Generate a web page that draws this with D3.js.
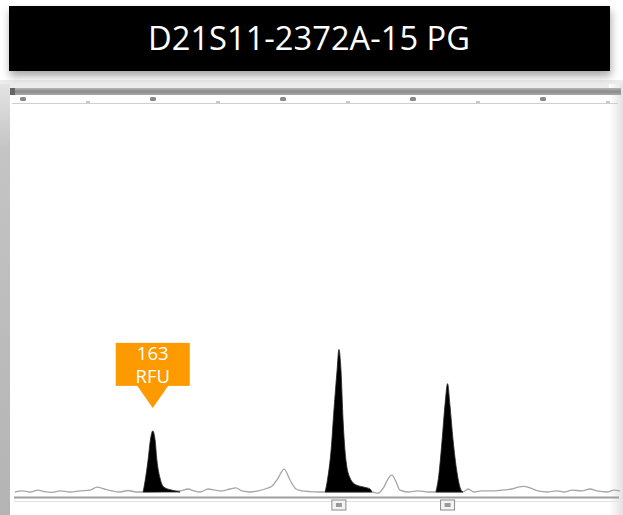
<!DOCTYPE html>
<html>
<head>
<meta charset="utf-8">
<script src="https://cdn.jsdelivr.net/npm/d3@7"></script>
<style>
  body { margin: 0; background: #fff; }
  svg { display: block; }
</style>
</head>
<body>
<div id="chart"></div>
<script>
// Page size.
var width = 623;
var height = 515;

var title = "D21S11-2372A-15 PG";

// Ruler ticks along the top (bp).
var majorTicks = [100, 150, 200, 250, 300];
var minorTicks = [125, 175, 225, 275, 325];

// Grey raw trace (bp, RFU).
var traceBp  = [96.9, 99.6, 102.7, 105.8, 108.1, 111.2, 114.2, 118.1, 121.9, 125.8, 128.5, 131.2, 134.2, 137.3, 140.4, 143.5, 146.2, 148.8, 154.6, 157.3,
                160.4, 163.5, 165.8, 168.1, 171.2, 173.8, 176.5, 179.6, 181.9, 184.2, 187.3, 190.4, 193.1, 195.8, 198.1, 200.4, 202.7, 205.0, 207.3, 210.4,
                213.5, 216.2, 225.8, 234.2, 236.5, 238.8, 240.4, 241.9, 243.5, 245.0, 248.1, 252.0, 255.8, 258.1, 269.2, 271.2, 273.5, 276.5, 280.4, 284.2,
                288.1, 290.4, 292.7, 295.0, 298.1, 301.5, 305.4, 308.1, 311.2, 315.0, 318.1, 320.8, 324.6, 327.3, 329.6];
var traceRfu = [0, 3, 0, 5, 1, -1, 3, 0, 3, 5, 13, 8, 3, 0, 4, 0, 0, 0, 2, 3,
                3, 8, 3, 0, 8, 5, 3, 8, 11, 3, 0, 3, 8, 16, 37, 61, 32, 8, 3, 1,
                0, 0, 0, 0, -3, 13, 35, 45, 27, 5, 0, 3, 0, 0, 0, 8, 0, 3, 3, 5,
                8, 13, 15, 11, 3, 0, 3, 0, 5, 3, 8, 3, 0, 5, 3];

// Called allele peaks (filled black), outline points (bp, RFU).
var peak1Bp  = [146.2, 146.9, 148.1, 149.0, 149.9, 150.8, 151.5, 152.7, 154.2, 157.3, 160.4];
var peak1Rfu = [0, 27, 85, 139, 163, 139, 85, 37, 13, 5, 0];
var peak2Bp  = [216.2, 217.1, 218.5, 219.6, 220.8, 221.5, 222.3, 223.1, 224.2, 225.8, 228.1, 231.2, 233.5, 234.2];
var peak2Rfu = [0, 32, 112, 219, 325, 380, 325, 192, 85, 37, 19, 13, 8, 0];
var peak3Bp  = [258.8, 259.9, 261.2, 262.3, 263.3, 264.2, 265.4, 266.9, 268.5, 269.2];
var peak3Rfu = [0, 43, 139, 232, 289, 232, 139, 53, 5, 0];

// Allele label boxes under the called peaks.
var labelBp = [221.5, 263.3];

// Callout on the small peak.
var calloutBp = 149.9;
var calloutRfu = 163;
var calloutText = ["163", "RFU"];

var x = d3.scaleLinear().domain([100, 300]).range([23, 543]);
var y = d3.scaleLinear().domain([0, 1000]).range([492, 117]);

var svg = d3.select("#chart").append("svg")
    .attr("width", width)
    .attr("height", height);

var defs = svg.append("defs");

var shadow = defs.append("filter")
    .attr("id", "shadow")
    .attr("x", "-5%").attr("y", "-20%")
    .attr("width", "110%").attr("height", "160%");
shadow.append("feDropShadow")
    .attr("dx", 1).attr("dy", 5)
    .attr("stdDeviation", 4)
    .attr("flood-color", "#000")
    .attr("flood-opacity", 0.35);

var leftGrad = defs.append("linearGradient")
    .attr("id", "leftGrad").attr("x1", 0).attr("x2", 0).attr("y1", 0).attr("y2", 1);
leftGrad.append("stop").attr("offset", "0%").attr("stop-color", "#e4e4e4");
leftGrad.append("stop").attr("offset", "15%").attr("stop-color", "#c4c4c4");
leftGrad.append("stop").attr("offset", "100%").attr("stop-color", "#b4b4b4");

var rightGrad = defs.append("linearGradient")
    .attr("id", "rightGrad").attr("x1", 0).attr("x2", 1).attr("y1", 0).attr("y2", 0);
rightGrad.append("stop").attr("offset", "0%").attr("stop-color", "#fff");
rightGrad.append("stop").attr("offset", "100%").attr("stop-color", "#e2e2e2");

var bandGrad = defs.append("linearGradient")
    .attr("id", "bandGrad").attr("x1", 0).attr("x2", 0).attr("y1", 0).attr("y2", 1);
bandGrad.append("stop").attr("offset", "0%").attr("stop-color", "#b4b4b4");
bandGrad.append("stop").attr("offset", "50%").attr("stop-color", "#8c8c8c");
bandGrad.append("stop").attr("offset", "100%").attr("stop-color", "#a8a8a8");

// Window frame around the electropherogram.
svg.append("rect")
    .attr("x", 0).attr("y", 80)
    .attr("width", width).attr("height", 8)
    .attr("fill", "#ececec");
svg.append("rect")
    .attr("x", 0).attr("y", 84)
    .attr("width", 10).attr("height", height - 84)
    .attr("fill", "url(#leftGrad)");
svg.append("rect")
    .attr("x", 609).attr("y", 84)
    .attr("width", 14).attr("height", height - 84)
    .attr("fill", "url(#rightGrad)");

// Ruler band at the top.
svg.append("rect")
    .attr("x", 10).attr("y", 88)
    .attr("width", 611).attr("height", 7)
    .attr("fill", "url(#bandGrad)");
svg.append("rect")
    .attr("x", 10).attr("y", 88)
    .attr("width", 5).attr("height", 7)
    .attr("fill", "#666");
svg.append("line")
    .attr("x1", 12).attr("x2", 618)
    .attr("y1", 103.5).attr("y2", 103.5)
    .attr("stroke", "#cfcfcf");

svg.selectAll(".major")
    .data(majorTicks)
    .enter().append("rect")
    .attr("class", "major")
    .attr("x", function(d) { return x(d) - 3; })
    .attr("y", 97)
    .attr("width", 6).attr("height", 4)
    .attr("rx", 1.5)
    .attr("fill", "#888");

svg.selectAll(".minor")
    .data(minorTicks)
    .enter().append("rect")
    .attr("class", "minor")
    .attr("x", function(d) { return x(d) - 2; })
    .attr("y", 101)
    .attr("width", 4).attr("height", 2)
    .attr("fill", "#c8c8c8");

// Baseline axis.
svg.append("line")
    .attr("x1", 14).attr("x2", 619)
    .attr("y1", 497.5).attr("y2", 497.5)
    .attr("stroke", "#9e9e9e")
    .attr("stroke-width", 2);
svg.append("line")
    .attr("x1", 14).attr("x2", 619)
    .attr("y1", 501.5).attr("y2", 501.5)
    .attr("stroke", "#e2e2e2");

// Grey raw trace.
var line = d3.line()
    .x(function(d) { return x(d[0]); })
    .y(function(d) { return y(d[1]); })
    .curve(d3.curveMonotoneX);

svg.append("path")
    .datum(d3.zip(traceBp, traceRfu))
    .attr("d", line)
    .attr("fill", "none")
    .attr("stroke", "#a6a6a6")
    .attr("stroke-width", 1.3);

// Filled allele peaks.
var area = d3.area()
    .x(function(d) { return x(d[0]); })
    .y0(y(0))
    .y1(function(d) { return y(d[1]); })
    .curve(d3.curveMonotoneX);

[[peak1Bp, peak1Rfu], [peak2Bp, peak2Rfu], [peak3Bp, peak3Rfu]].forEach(function(p) {
  svg.append("path")
      .datum(d3.zip(p[0], p[1]))
      .attr("d", area)
      .attr("fill", "#000")
      .attr("stroke", "#222")
      .attr("stroke-width", 0.8);
});

// Allele label boxes.
var boxes = svg.selectAll(".lbl")
    .data(labelBp)
    .enter().append("g")
    .attr("class", "lbl")
    .attr("transform", function(d) { return "translate(" + x(d) + ",505)"; });
boxes.append("rect")
    .attr("x", -7).attr("y", -5)
    .attr("width", 14).attr("height", 10)
    .attr("fill", "#f4f4f4")
    .attr("stroke", "#8a8a8a");
boxes.append("rect")
    .attr("x", -3).attr("y", -2)
    .attr("width", 6).attr("height", 4)
    .attr("fill", "#9a9a9a");

// Orange callout with arrow.
var cx = x(calloutBp);
var tipY = y(calloutRfu) - 23;
var callout = svg.append("g");
callout.append("rect")
    .attr("x", cx - 37).attr("y", tipY - 65)
    .attr("width", 74).attr("height", 43)
    .attr("fill", "#fd9a00");
callout.append("path")
    .attr("d", "M" + (cx - 16) + "," + (tipY - 23) + "L" + (cx + 16) + "," + (tipY - 23) + "L" + cx + "," + tipY + "Z")
    .attr("fill", "#fd9a00");
callout.selectAll("text")
    .data(calloutText)
    .enter().append("text")
    .attr("x", cx)
    .attr("y", function(d, i) { return tipY - 48 + i * 23; })
    .attr("text-anchor", "middle")
    .attr("font-family", "Open Sans, sans-serif")
    .attr("font-size", 18.5)
    .attr("fill", "#fff")
    .text(function(d) { return d; });

// Title bar.
svg.append("rect")
    .attr("x", 9).attr("y", 6)
    .attr("width", 601).attr("height", 65)
    .attr("fill", "#000")
    .attr("filter", "url(#shadow)");
svg.append("text")
    .attr("x", 309)
    .attr("y", 50)
    .attr("text-anchor", "middle")
    .attr("font-family", "Open Sans, sans-serif")
    .attr("font-size", 32)
    .attr("textLength", 322)
    .attr("lengthAdjust", "spacingAndGlyphs")
    .attr("fill", "#fff")
    .text(title);
</script>
</body>
</html>
